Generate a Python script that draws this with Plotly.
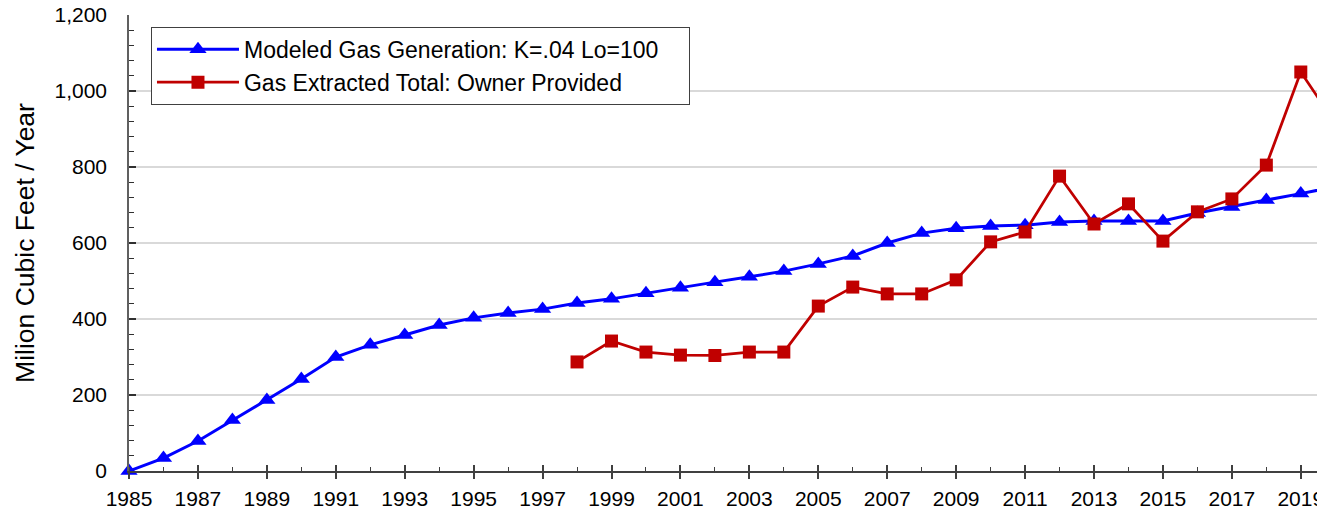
import plotly.graph_objects as go

years_model = list(range(1985, 2021))
modeled_gas = [0, 34, 79, 134, 187, 242, 300, 332, 358, 384, 403, 416, 426, 442, 453,
               468, 482, 497, 511, 526, 545, 566, 600, 626, 639, 645, 647, 655, 658,
               658, 658, 679, 695, 713, 730, 748]

years_extracted = list(range(1998, 2021))
extracted_gas = [287, 342, 313, 305, 304, 313, 313, 434, 484, 466, 466, 503, 603, 629,
                 776, 650, 703, 605, 682, 716, 805, 1050, 915]

name_model = "Modeled Gas Generation: K=.04 Lo=100"
name_extracted = "Gas Extracted Total: Owner Provided"
y_title = "Milion Cubic Feet / Year"

FONT = "Liberation Sans, Arial, sans-serif"
PAD = "\u00a0" * 4

fig = go.Figure()
fig.add_trace(go.Scatter(
    x=years_model, y=modeled_gas, name=name_model + PAD, mode="lines+markers",
    line=dict(color="#0000FF", width=3),
    marker=dict(symbol="triangle-up", size=15, color="#0000FF"),
    cliponaxis=False,
))
fig.add_trace(go.Scatter(
    x=years_extracted, y=extracted_gas, name=name_extracted, mode="lines+markers",
    line=dict(color="#C00000", width=2.75),
    marker=dict(symbol="square", size=13, color="#C00000"),
    cliponaxis=False,
))

fig.update_layout(
    width=1317, height=508,
    margin=dict(l=129, r=0, t=15, b=37),
    paper_bgcolor="white", plot_bgcolor="white",
    font=dict(family=FONT, size=21, color="black"),
    showlegend=True,
    legend=dict(
        x=0.0185, y=0.974, xanchor="left", yanchor="top",
        bgcolor="white", bordercolor="#404040", borderwidth=1,
        font=dict(family=FONT, size=23, color="black"),
        tracegroupgap=0, itemwidth=82,
    ),
    xaxis=dict(
        range=[1985, 2019.47], tick0=1985, dtick=2, automargin=False,
        showgrid=False, zeroline=False,
        showline=True, linecolor="#404040", linewidth=1.5,
        ticks="outside", ticklen=6, tickwidth=1.5, tickcolor="#404040",
        ticklabelstandoff=2, ticklabeloverflow="allow",
        tickfont=dict(family=FONT, size=21, color="black"),
        minor=dict(dtick=1, tick0=1985, ticks="inside", ticklen=4,
                   tickwidth=1, tickcolor="#404040", showgrid=False),
    ),
    xaxis2=dict(
        overlaying="x", matches="x", range=[1985, 2019.47], tick0=1985, dtick=2,
        automargin=False,
        showgrid=False, zeroline=False, showline=False, showticklabels=False,
        ticks="inside", ticklen=6, tickwidth=1.5, tickcolor="#404040",
        side="bottom",
    ),
    yaxis=dict(
        range=[0, 1200], dtick=200, tickformat=",d", automargin=False,
        showgrid=True, gridcolor="#D9D9D9", gridwidth=1.5,
        zeroline=False,
        showline=True, linecolor="#606060", linewidth=1.5,
        ticks="inside", ticklen=7, tickwidth=1.5, tickcolor="#303030",
        ticklabelstandoff=16, ticklabeloverflow="allow",
        tickfont=dict(family=FONT, size=21, color="black"),
        minor=dict(dtick=40, ticks="inside", ticklen=5, tickwidth=1,
                   tickcolor="#303030", showgrid=False),
        title=dict(text=y_title, standoff=12,
                   font=dict(family=FONT, size=26.5, color="black")),
    ),
)

# invisible helper trace so the crossing tick axis is rendered
fig.add_trace(go.Scatter(x=[years_model[0]], y=[modeled_gas[0]], xaxis="x2",
                         mode="markers", marker=dict(opacity=0), showlegend=False,
                         hoverinfo="skip"))

fig.write_html(
    "out.html",
    config={"displayModeBar": False},
    post_script="document.body.style.margin='0';document.body.style.overflow='hidden';",
)
